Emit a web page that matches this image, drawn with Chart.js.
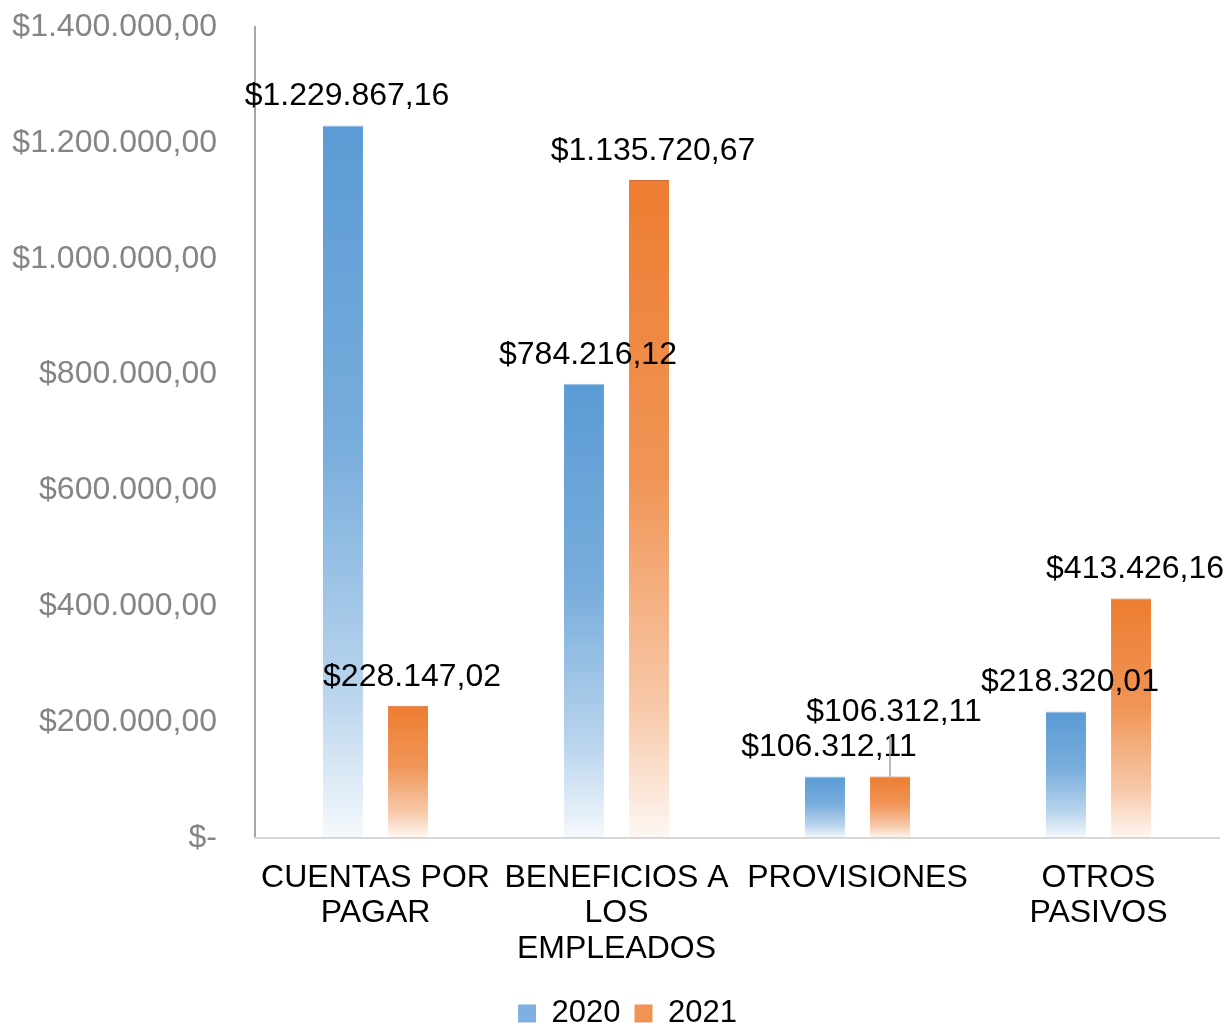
<!DOCTYPE html>
<html>
<head>
<meta charset="utf-8">
<script src="https://cdn.jsdelivr.net/npm/chart.js@4/dist/chart.umd.min.js"></script>
<style>
html,body{margin:0;padding:0;background:#fff;}
#wrap{width:1227px;height:1023px;position:relative;}
</style>
</head>
<body>
<div id="wrap"><canvas id="c"></canvas></div>
<script>
const categories = [["CUENTAS POR","PAGAR"],["BENEFICIOS A","LOS","EMPLEADOS"],["PROVISIONES"],["OTROS","PASIVOS"]];
const seriesNames = ["2020","2021"];
const values2020 = [1229867.16, 784216.12, 106312.11, 218320.01];
const values2021 = [228147.02, 1135720.67, 106312.11, 413426.16];
const yMin = 0, yMax = 1400000, yStep = 200000;

const FONT = "'Liberation Sans', Arial, sans-serif";
const AREA_BOTTOM = 838;
const PAD_LEFT = 36;
const PAD_BOTTOM = -16;

function fmt(v){
  if (v === 0) return "$-";
  const neg = v < 0; v = Math.abs(v);
  const fixed = v.toFixed(2);
  let [ip, dp] = fixed.split(".");
  ip = ip.replace(/\B(?=(\d{3})+(?!\d))/g, ".");
  return (neg?"-":"") + "$" + ip + "," + dp;
}

function makeGrad(rgb){
  return function(ctx){
    const chart = ctx.chart;
    if (!chart.chartArea || ctx.type !== 'data') return 'rgb(' + rgb + ')';
    const ys = chart.scales.y;
    const top = ys.getPixelForValue(ctx.raw);
    const base = ys.getPixelForValue(0);
    if (!isFinite(top) || !isFinite(base) || top === base) return 'rgb(' + rgb + ')';
    const g = chart.ctx.createLinearGradient(0, top, 0, base);
    g.addColorStop(0, 'rgba(' + rgb + ',1)');
    g.addColorStop(0.45, 'rgba(' + rgb + ',0.82)');
    g.addColorStop(0.8, 'rgba(' + rgb + ',0.42)');
    g.addColorStop(1, 'rgba(' + rgb + ',0.06)');
    return g;
  };
}

const labelPlugin = {
  id: 'barLabels',
  afterDatasetsDraw(chart, args, opts){
    const ctx = chart.ctx;
    ctx.save();
    ctx.font = opts.font;
    ctx.fillStyle = opts.color;
    ctx.textAlign = 'center';
    ctx.textBaseline = 'middle';
    chart.data.datasets.forEach((ds, di) => {
      const meta = chart.getDatasetMeta(di);
      meta.data.forEach((bar, i) => {
        let lift = opts.gap;
        const special = (opts.lifted || []).find(o => o.datasetIndex === di && o.index === i);
        if (special) {
          lift += special.extra;
          ctx.save();
          ctx.strokeStyle = opts.leaderColor;
          ctx.lineWidth = 1.5;
          ctx.beginPath();
          ctx.moveTo(bar.x, bar.y);
          ctx.lineTo(bar.x, bar.y - lift + 22);
          ctx.stroke();
          ctx.restore();
        }
        ctx.fillText(fmt(ds.data[i]), bar.x + opts.dx, bar.y - lift);
      });
    });
    ctx.restore();
  }
};

new Chart(document.getElementById('c'), {
  type: 'bar',
  data: {
    labels: categories,
    datasets: [
      { label: seriesNames[0], data: values2020, backgroundColor: makeGrad('91,155,213'),
        borderColor: 'rgba(91,155,213,0.6)', borderWidth: {top:1,left:0,right:0,bottom:0}, borderSkipped: 'bottom' },
      { label: seriesNames[1], data: values2021, backgroundColor: makeGrad('237,125,49'),
        borderColor: 'rgba(200,95,30,0.9)', borderWidth: {top:1,left:0,right:0,bottom:0}, borderSkipped: 'bottom' }
    ]
  },
  options: {
    responsive: true,
    maintainAspectRatio: false,
    animation: false,
    layout: { padding: { top: 27, right: 8, left: PAD_LEFT, bottom: PAD_BOTTOM } },
    categoryPercentage: 0.54,
    barPercentage: 0.615,
    scales: {
      y: {
        min: yMin, max: yMax,
        ticks: { stepSize: yStep, callback: v => fmt(v), color: '#858585',
                 font: { family: FONT, size: 32 }, padding: 38 },
        grid: { display: false, drawTicks: false },
        border: { display: true, color: '#A6A6A6', width: 2 },
        afterFit: s => {
          s.width = 255 - PAD_LEFT; s.paddingTop = 0; s.paddingBottom = 0;
          s._computeLabelArea = function(){ return undefined; };
        }
      },
      x: {
        ticks: { color: '#000', font: { family: FONT, size: 32, lineHeight: 1.11 }, padding: 22, maxRotation: 0, autoSkip: false },
        grid: { display: false, drawTicks: false },
        border: { display: true, color: '#D9D9D9', width: 2 },
        afterFit: s => {
          const lh = s.chart.legend ? s.chart.legend.height : 0;
          s.height = s.chart.height - AREA_BOTTOM - lh - PAD_BOTTOM;
        }
      }
    },
    plugins: {
      legend: {
        position: 'bottom',
        labels: {
          color: '#000', font: { family: FONT, size: 31, lineHeight: 1.0 }, boxWidth: 18, boxHeight: 18, padding: 14,
          generateLabels: chart => chart.data.datasets.map((ds, i) => ({
            text: ds.label, fillStyle: i === 0 ? '#7FB0E0' : '#F09353', strokeStyle: 'rgba(0,0,0,0)',
            lineWidth: 0, hidden: false, datasetIndex: i, fontColor: '#000'
          }))
        }
      },
      tooltip: { enabled: false },
      barLabels: { font: '32px ' + FONT, color: '#000', gap: 29, dx: 4, leaderColor: '#A0A0A0',
                   lifted: [{ datasetIndex: 1, index: 2, extra: 35 }] }
    }
  },
  plugins: [labelPlugin]
});
</script>
</body>
</html>
